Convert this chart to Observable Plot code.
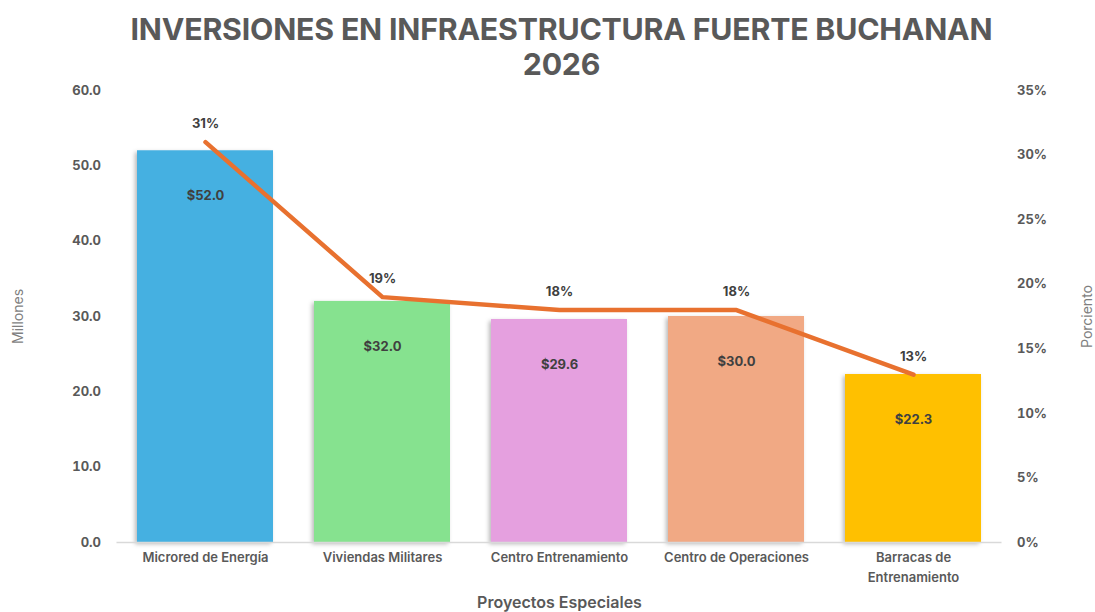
<!DOCTYPE html>
<html><head><meta charset="utf-8">
<script src="https://cdn.jsdelivr.net/npm/d3@7"></script>
<script src="https://cdn.jsdelivr.net/npm/@observablehq/plot@0.6"></script>
<style>
body{margin:0;background:#fff;font-family:Inter,"Open Sans",sans-serif;}
#title{height:80px;width:1095px;text-align:center;font-weight:700;font-size:30.3px;line-height:35px;color:#595959;padding-top:12px;box-sizing:border-box;margin-left:14px;letter-spacing:-0.2px}
g[aria-label="bar"] rect{filter:drop-shadow(-2px 2px 2px rgba(0,0,0,0.28));}
</style></head>
<body>
<div id="title">INVERSIONES EN INFRAESTRUCTURA FUERTE BUCHANAN<br>2026</div>
<div id="chart"></div>
<script>
const categories = ["Microred de Energía","Viviendas Militares","Centro Entrenamiento","Centro de Operaciones","Barracas de\nEntrenamiento"];
const millions = [52.0, 32.0, 29.6, 30.0, 22.3];
const percents = [31, 19, 18, 18, 13];
const colors = ["#45B0E1","#86E28F","#E5A0DF","#F1A984","#FFC000"];
const leftTicks = [0,10,20,30,40,50,60];
const rightTicks = [0,5,10,15,20,25,30,35];

const yMax = 60, pMax = 35;
const toY = p => p * yMax / pMax;
const data = categories.map((c,i)=>({cat:c, m:millions[i], p:percents[i], color:colors[i]}));

const plot = Plot.plot({
  width:1095, height:532,
  marginTop:10, marginBottom:70, marginLeft:116.5, marginRight:93.5,
  style:{fontFamily:"Inter, 'Open Sans', sans-serif", color:"#595959"},
  x:{domain:categories, paddingInner:0.23, paddingOuter:0.115},
  y:{domain:[0,yMax]},
  marks:[
    Plot.barY(data,{x:"cat", y:"m", fill:"color"}),
    Plot.ruleY([0],{stroke:"#d9d9d9", strokeWidth:1.5}),
    Plot.axisY({anchor:"left", ticks:leftTicks, tickSize:0, tickPadding:16, tickFormat:d=>d.toFixed(1), fontSize:13, fontWeight:700, fill:"#595959", label:null}),
    Plot.axisY({anchor:"right", ticks:rightTicks.map(toY), tickSize:0, tickPadding:15, tickFormat:v=>Math.round(v*pMax/yMax)+"%", fontSize:13, fontWeight:700, fill:"#595959", label:null, textAnchor:"start"}),
    Plot.axisX({tickSize:0, tickPadding:5, fontSize:13, fontWeight:600, fill:"#595959", lineHeight:1.55, label:null}),
    Plot.text(data,{x:"cat", y:"m", text:d=>"$"+d.m.toFixed(1), dy:45, fontSize:13, fontWeight:700, fill:"#404040"}),
    Plot.line(data,{x:"cat", y:d=>toY(d.p), stroke:"#E8712F", strokeWidth:4.5}),
    Plot.text(data,{x:"cat", y:d=>toY(d.p), text:d=>d.p+"%", dy:-18, fontSize:13, fontWeight:700, fill:"#404040"}),
    Plot.text(["Proyectos Especiales"],{frameAnchor:"bottom", dy:65, fontSize:16, fontWeight:600, fill:"#595959"}),
    Plot.text(["Millones"],{frameAnchor:"left", textAnchor:"middle", dx:-98.5, rotate:-90, fontSize:14, fill:"#7f7f7f"}),
    Plot.text(["Porciento"],{frameAnchor:"right", textAnchor:"middle", dx:85.5, rotate:-90, fontSize:14, fill:"#7f7f7f"})
  ]
});
document.getElementById("chart").appendChild(plot);
</script>
</body></html>
